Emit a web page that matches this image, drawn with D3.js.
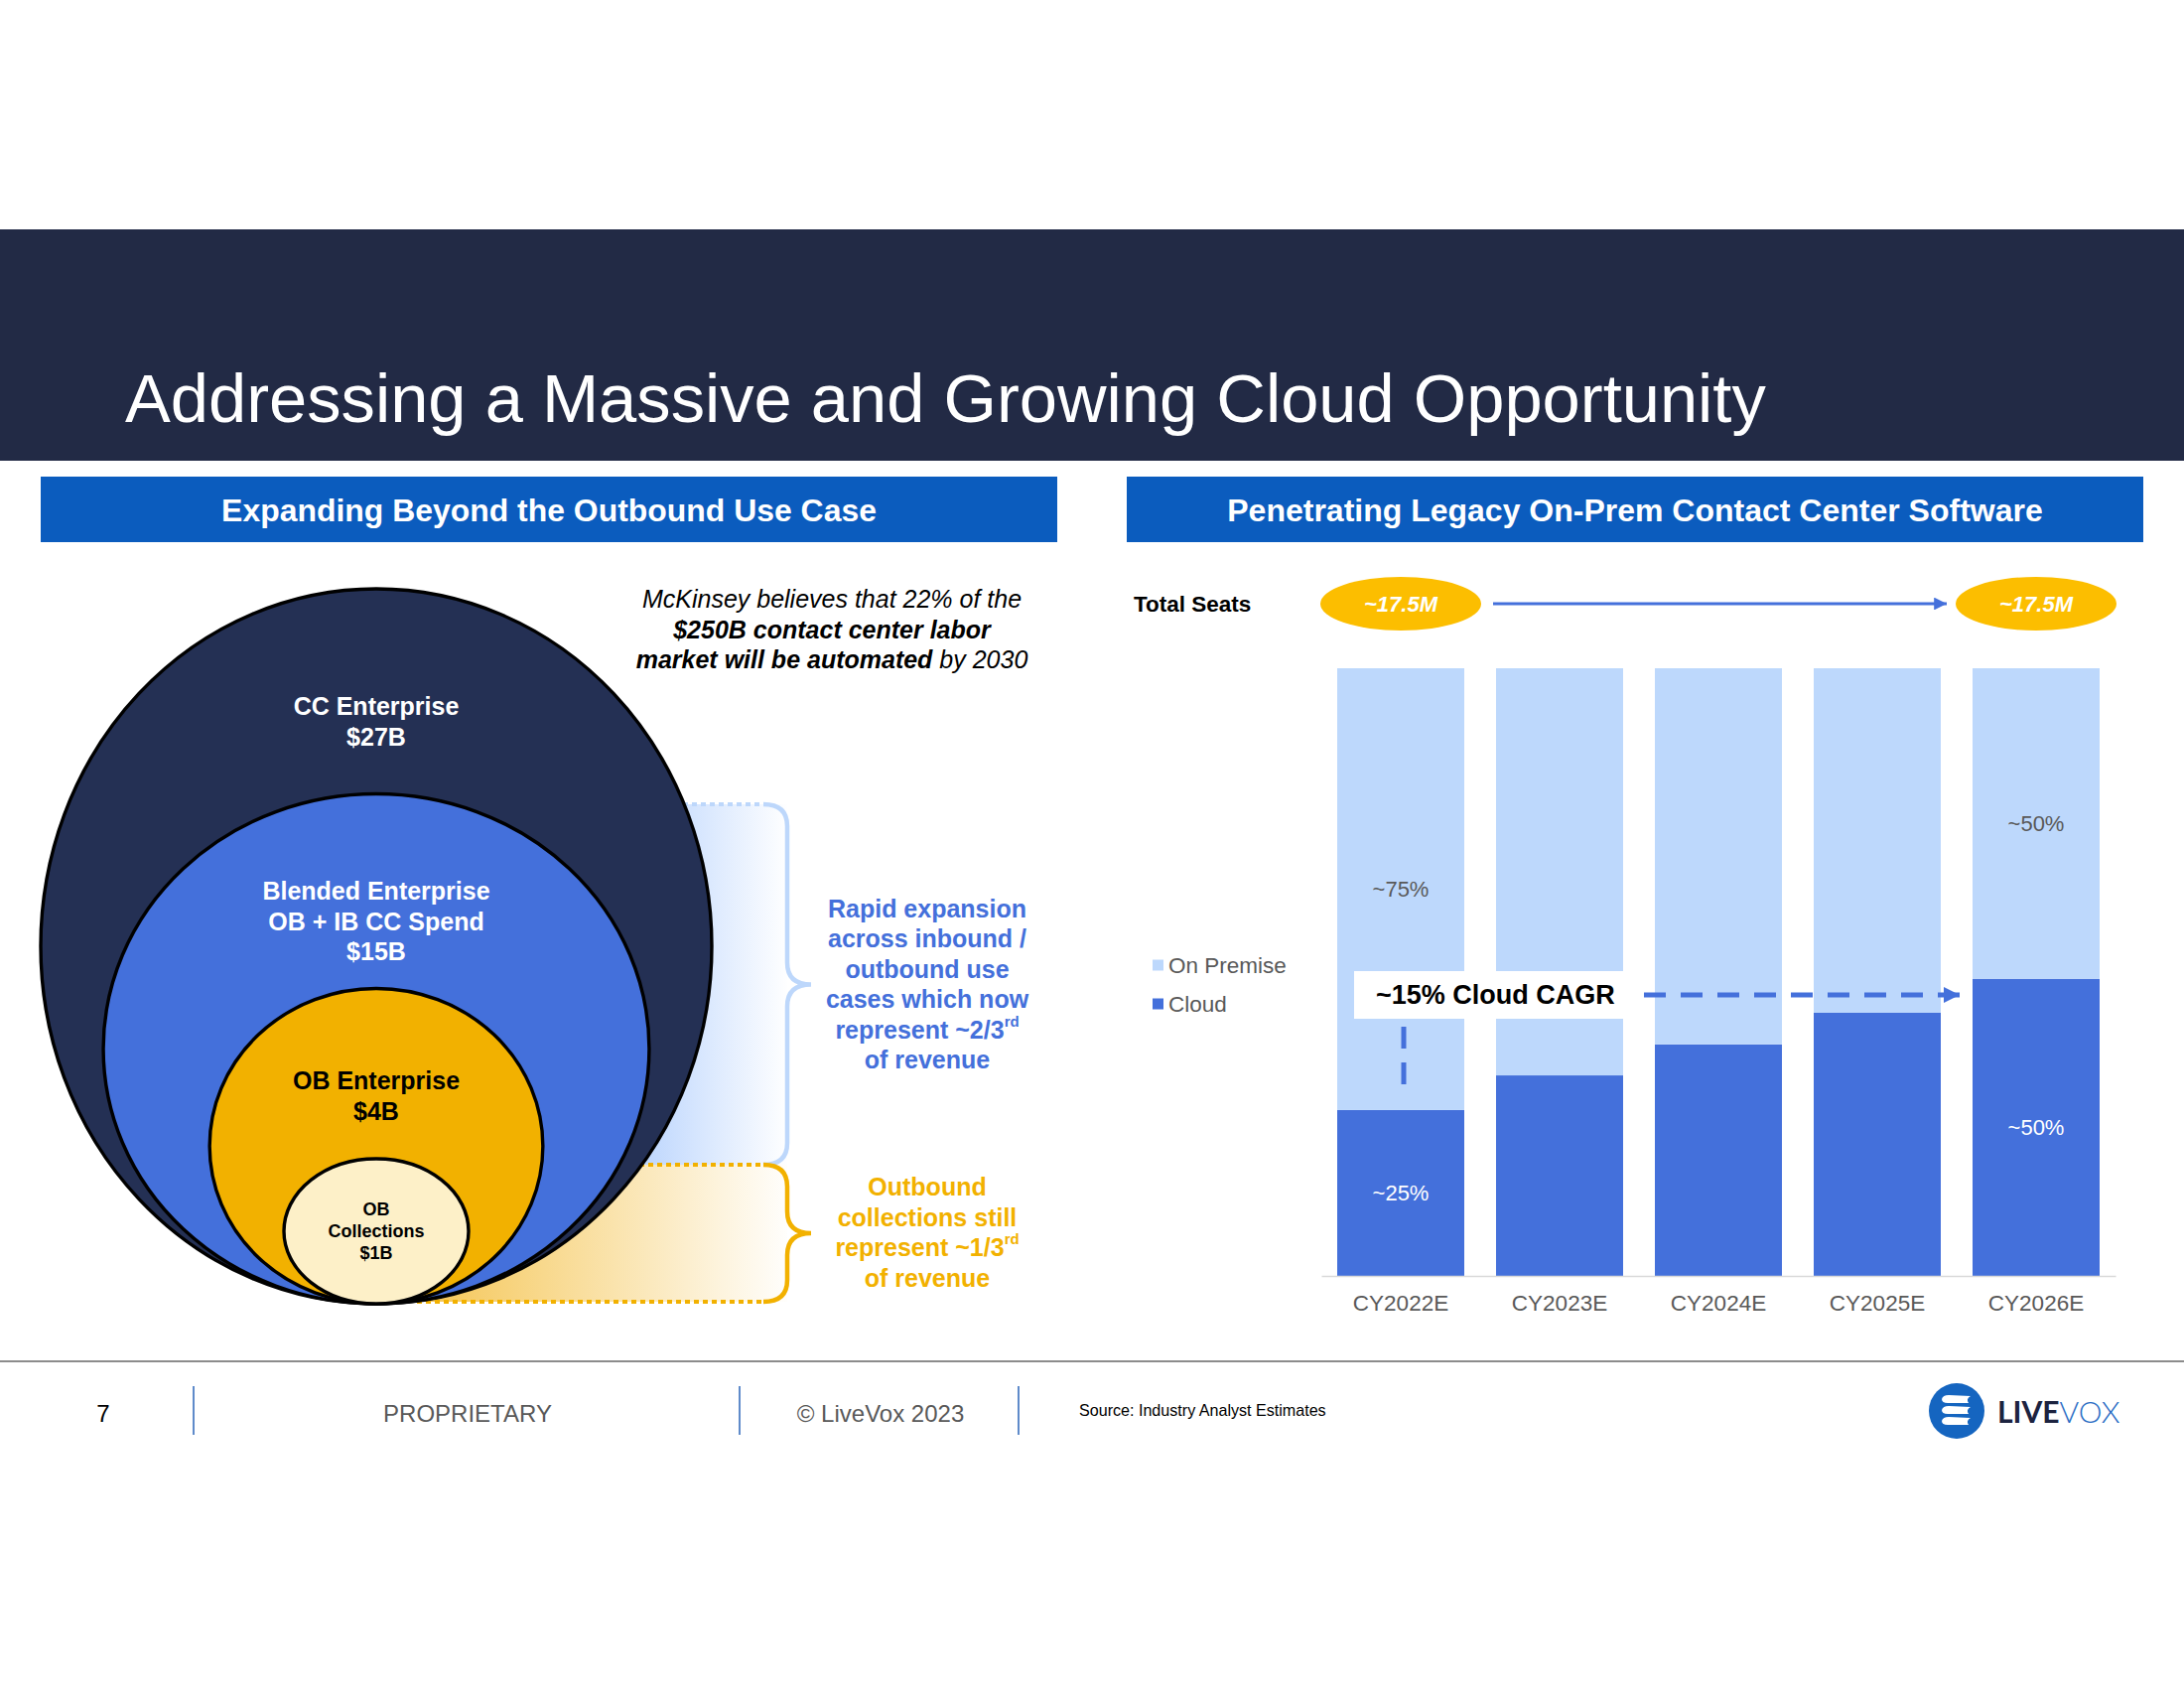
<!DOCTYPE html>
<html><head><meta charset="utf-8">
<script src="https://cdn.jsdelivr.net/npm/d3@7"></script>
<style>body{margin:0;background:#fff;} svg{display:block;font-family:"Liberation Sans",Arial,sans-serif;}</style>
</head><body><svg id="c" width="2200" height="1700"></svg>
<script>
// ---------- data ----------
const titleText = "Addressing a Massive and Growing Cloud Opportunity";
const leftHeader = "Expanding Beyond the Outbound Use Case";
const rightHeader = "Penetrating Legacy On-Prem Contact Center Software";
const markets = ["CC Enterprise", "Blended Enterprise", "OB Enterprise", "OB Collections"];
const marketValues = [27, 15, 4, 1];
const marketLabels = [["CC Enterprise", "$27B"], ["Blended Enterprise", "OB + IB CC Spend", "$15B"], ["OB Enterprise", "$4B"], ["OB", "Collections", "$1B"]];
const categories = ["CY2022E", "CY2023E", "CY2024E", "CY2025E", "CY2026E"];
const seriesNames = ["On Premise", "Cloud"];
const cloudShare = [27.3, 33.0, 38.1, 43.3, 48.9];
const onPremShare = [72.7, 67.0, 61.9, 56.7, 51.1];
const totalSeats = ["~17.5M", "~17.5M"];
const barLabels = [
  {cat: "CY2022E", series: "On Premise", text: "~75%"},
  {cat: "CY2022E", series: "Cloud", text: "~25%"},
  {cat: "CY2026E", series: "On Premise", text: "~50%"},
  {cat: "CY2026E", series: "Cloud", text: "~50%"}
];
const cagrText = "~15% Cloud CAGR";
const blueNote = [["Rapid expansion"], ["across inbound /"], ["outbound use"], ["cases which now"], ["represent ~2/3", "rd"], ["of revenue"]];
const orangeNote = [["Outbound"], ["collections still"], ["represent ~1/3", "rd"], ["of revenue"]];
const footerItems = ["7", "PROPRIETARY", "\u00a9 LiveVox 2023"];
const sourceText = "Source: Industry Analyst Estimates";

// ---------- styles ----------
const C = {
  navy: "#222a45", headerBlue: "#0b5cbe", dark: "#243054", mid: "#4470db",
  orange: "#f2b100", cream: "#fdf0c8", light: "#bdd8fc", pill: "#fcbe00",
  gray: "#595959", braceBlue: "#bdd7fb"
};
const svg = d3.select("#c");
svg.append("rect").attr("width", 2200).attr("height", 1700).attr("fill", "#fff");

function fit(sel, w) {
  const l = sel.node().getComputedTextLength();
  sel.attr("font-size", parseFloat(sel.attr("font-size")) * w / l);
}

// ---------- title band ----------
svg.append("rect").attr("x", 0).attr("y", 231).attr("width", 2200).attr("height", 233).attr("fill", C.navy);
const tt = svg.append("text").attr("x", 126).attr("y", 425).attr("fill", "#fff").attr("font-size", 70).text(titleText);
fit(tt, 1653);

// section headers
[[41, leftHeader, 660], [1135, rightHeader, 822]].forEach(([x0, t, w]) => {
  svg.append("rect").attr("x", x0).attr("y", 480).attr("width", 1024).attr("height", 66).attr("fill", C.headerBlue);
  const s = svg.append("text").attr("x", x0 + 512).attr("y", 525).attr("text-anchor", "middle")
    .attr("fill", "#fff").attr("font-weight", "bold").attr("font-size", 31).text(t);
  fit(s, w);
});

// ---------- left: nested ellipses ----------
const defs = svg.append("defs");
const gB = defs.append("linearGradient").attr("id", "gBlue").attr("gradientUnits", "userSpaceOnUse")
  .attr("x1", 635).attr("x2", 795).attr("y1", 0).attr("y2", 0);
gB.append("stop").attr("offset", 0).attr("stop-color", "#b8d3fd");
gB.append("stop").attr("offset", 1).attr("stop-color", "#ffffff");
const gO = defs.append("linearGradient").attr("id", "gOrange").attr("gradientUnits", "userSpaceOnUse")
  .attr("x1", 440).attr("x2", 800).attr("y1", 0).attr("y2", 0);
gO.append("stop").attr("offset", 0).attr("stop-color", "#f5c85c");
gO.append("stop").attr("offset", 1).attr("stop-color", "#ffffff");

const braceX = 793, dotEnd = 769;
const blueTop = 810, split = 1173, baseY = 1313;
svg.append("rect").attr("x", 600).attr("y", blueTop).attr("width", braceX - 600).attr("height", split - blueTop).attr("fill", "url(#gBlue)");
svg.append("rect").attr("x", 400).attr("y", split).attr("width", braceX - 400).attr("height", baseY - 2 - split).attr("fill", "url(#gOrange)");

const cx = 379;
const n = markets.length;
const rxScale = d3.scalePow().exponent(0.3).domain([1, 27]).range([93, 338]);
const ryScale = d3.scalePow().exponent(1.1).domain([0, n - 1]).range([73, 360]);
const fills = [C.dark, C.mid, C.orange, C.cream];
const ell = markets.map((m, i) => ({name: m, rx: rxScale(marketValues[i]), ry: ryScale(n - 1 - i), fill: fills[i]}));
ell.forEach(e => { e.cy = baseY - e.ry; e.top = baseY - 2 * e.ry; });

// dotted connector lines
svg.append("line").attr("x1", 688).attr("x2", dotEnd).attr("y1", blueTop).attr("y2", blueTop)
  .attr("stroke", C.braceBlue).attr("stroke-width", 4).attr("stroke-dasharray", "5,4");
svg.append("line").attr("x1", 635).attr("x2", dotEnd).attr("y1", split).attr("y2", split)
  .attr("stroke", C.orange).attr("stroke-width", 4).attr("stroke-dasharray", "5,4");
svg.append("line").attr("x1", 420).attr("x2", dotEnd).attr("y1", baseY - 2).attr("y2", baseY - 2)
  .attr("stroke", C.orange).attr("stroke-width", 4).attr("stroke-dasharray", "5,4");

svg.selectAll("ellipse.mkt").data(ell).join("ellipse").attr("class", "mkt")
  .attr("cx", cx).attr("cy", d => d.cy).attr("rx", d => d.rx).attr("ry", d => d.ry)
  .attr("fill", d => d.fill).attr("stroke", "#000").attr("stroke-width", 3.4);

ell.forEach((e, i) => {
  const lines = marketLabels[i];
  const small = i === 3;
  const fs = small ? 18 : 25, lh = small ? 22 : 30.5;
  const center = small ? e.cy : (e.top + ell[i + 1].top) / 2 + (i === 2 ? 22 : 30);
  const col = i < 2 ? "#fff" : "#000";
  lines.forEach((t, k) => {
    svg.append("text").attr("x", cx).attr("y", center + (k - (lines.length - 1) / 2) * lh)
      .attr("dominant-baseline", "central").attr("text-anchor", "middle")
      .attr("font-weight", "bold").attr("font-size", fs).attr("fill", col).text(t);
  });
});

// braces
function brace(y0, y1, color) {
  const m = (y0 + y1) / 2, r = 22;
  const p = `M${dotEnd},${y0} Q${braceX},${y0} ${braceX},${y0 + r} L${braceX},${m - r} Q${braceX},${m} ${braceX + 24},${m} Q${braceX},${m} ${braceX},${m + r} L${braceX},${y1 - r} Q${braceX},${y1} ${dotEnd},${y1}`;
  svg.append("path").attr("d", p).attr("fill", "none").attr("stroke", color).attr("stroke-width", 4.5);
}
brace(blueTop, split, C.braceBlue);
brace(split, baseY - 2, C.orange);

function note(lines, yc, color) {
  const lh = 30.5;
  lines.forEach((parts, k) => {
    const t = svg.append("text").attr("x", 934).attr("y", yc + (k - (lines.length - 1) / 2) * lh)
      .attr("dominant-baseline", "central").attr("text-anchor", "middle")
      .attr("font-weight", "bold").attr("font-size", 25).attr("fill", color);
    t.append("tspan").text(parts[0]);
    if (parts[1]) t.append("tspan").attr("font-size", 15).attr("dy", -9).text(parts[1]);
  });
}
note(blueNote, 991, C.mid);
note(orangeNote, 1241, C.orange);

// McKinsey quote
const mq = [[["McKinsey believes that 22% of the", "normal"]], [["$250B contact center labor", "bold"]], [["market will be automated", "bold"], [" by 2030", "normal"]]];
mq.forEach((parts, k) => {
  const t = svg.append("text").attr("x", 838).attr("y", 603 + k * 30.5).attr("dominant-baseline", "central")
    .attr("text-anchor", "middle").attr("font-style", "italic").attr("font-size", 25).attr("fill", "#000");
  parts.forEach(p => t.append("tspan").attr("font-weight", p[1]).text(p[0]));
});

// ---------- right: stacked bars ----------
const x = d3.scaleBand().domain(categories).range([1331, 2131]).paddingInner(0.2).paddingOuter(0.1);
const y = d3.scaleLinear().domain([0, 100]).range([1285, 673]);
const rows = categories.map((c, i) => ({cat: c, "Cloud": cloudShare[i], "On Premise": onPremShare[i]}));
const stack = d3.stack().keys(["Cloud", "On Premise"])(rows);
const color = d3.scaleOrdinal().domain(seriesNames).range([C.light, C.mid]);

svg.append("g").selectAll("g").data(stack).join("g").attr("fill", d => color(d.key))
  .selectAll("rect").data(d => d).join("rect")
  .attr("x", d => x(d.data.cat)).attr("width", x.bandwidth())
  .attr("y", d => y(d[1])).attr("height", d => y(d[0]) - y(d[1]));

const ax = svg.append("g").attr("transform", "translate(0,1285)")
  .call(d3.axisBottom(x).tickSize(0).tickPadding(19));
ax.select(".domain").attr("stroke", "#d9d9d9").attr("stroke-width", 1.5);
ax.selectAll("text").attr("font-size", 22.5).attr("fill", C.gray).attr("font-family", "Liberation Sans, Arial, sans-serif");

// segment labels
barLabels.forEach(l => {
  const layer = stack.find(s => s.key === l.series);
  const d = layer.find(v => v.data.cat === l.cat);
  svg.append("text").attr("x", x(l.cat) + x.bandwidth() / 2).attr("y", (y(d[0]) + y(d[1])) / 2)
    .attr("dominant-baseline", "central").attr("text-anchor", "middle").attr("font-size", 22)
    .attr("fill", l.series === "Cloud" ? "#fff" : C.gray).text(l.text);
});

// legend
seriesNames.forEach((s, i) => {
  const ly = 972 + i * 39;
  svg.append("rect").attr("x", 1161).attr("y", ly - 5.5).attr("width", 11).attr("height", 11).attr("fill", color(s));
  svg.append("text").attr("x", 1177).attr("y", ly).attr("dominant-baseline", "central")
    .attr("font-size", 22.5).attr("fill", C.gray).text(s);
});

// total seats row
svg.append("text").attr("x", 1142).attr("y", 608).attr("dominant-baseline", "central")
  .attr("font-weight", "bold").attr("font-size", 22.5).attr("fill", "#000").text("Total Seats");
const pillCats = [categories[0], categories[categories.length - 1]];
pillCats.forEach((c, i) => {
  const px = x(c) + x.bandwidth() / 2;
  svg.append("ellipse").attr("cx", px).attr("cy", 608).attr("rx", 81).attr("ry", 27).attr("fill", C.pill);
  svg.append("text").attr("x", px).attr("y", 608).attr("dominant-baseline", "central").attr("text-anchor", "middle")
    .attr("font-weight", "bold").attr("font-style", "italic").attr("font-size", 22).attr("fill", "#fff").text(totalSeats[i]);
});
defs.append("marker").attr("id", "ah").attr("viewBox", "0 0 10 10").attr("refX", 10).attr("refY", 5)
  .attr("markerWidth", 4).attr("markerHeight", 4).attr("markerUnits", "strokeWidth").attr("orient", "auto")
  .append("path").attr("d", "M0,0 L10,5 L0,10 Z").attr("fill", C.mid);
defs.append("marker").attr("id", "ah2").attr("viewBox", "0 0 10 10").attr("refX", 10).attr("refY", 5)
  .attr("markerWidth", 3.2).attr("markerHeight", 3.8).attr("markerUnits", "strokeWidth").attr("orient", "auto")
  .append("path").attr("d", "M0,0 L10,5 L0,10 Z").attr("fill", C.mid);
const p0 = x(pillCats[0]) + x.bandwidth() / 2 + 93, p1 = x(pillCats[1]) + x.bandwidth() / 2 - 90;
svg.append("line").attr("x1", p0).attr("x2", p1).attr("y1", 608).attr("y2", 608)
  .attr("stroke", C.mid).attr("stroke-width", 3.2).attr("marker-end", "url(#ah)");

// CAGR annotation
svg.append("rect").attr("x", 1364).attr("y", 978).attr("width", 271).attr("height", 48).attr("fill", "#fff");
svg.append("text").attr("x", 1386).attr("y", 1002).attr("dominant-baseline", "central")
  .attr("font-weight", "bold").attr("font-size", 27).attr("fill", "#000").text(cagrText);
svg.append("line").attr("x1", 1656).attr("x2", 1974).attr("y1", 1002).attr("y2", 1002)
  .attr("stroke", C.mid).attr("stroke-width", 5).attr("stroke-dasharray", "22,15").attr("marker-end", "url(#ah2)");
svg.append("line").attr("x1", 1414).attr("x2", 1414).attr("y1", 1034).attr("y2", 1092)
  .attr("stroke", C.mid).attr("stroke-width", 5).attr("stroke-dasharray", "22,14");

// ---------- footer ----------
svg.append("line").attr("x1", 0).attr("x2", 2200).attr("y1", 1371).attr("y2", 1371).attr("stroke", "#8c8c8c").attr("stroke-width", 2);
[195, 745, 1026].forEach(sx => svg.append("line").attr("x1", sx).attr("x2", sx).attr("y1", 1396).attr("y2", 1445)
  .attr("stroke", "#2a64b8").attr("stroke-width", 1.5));
[104, 471, 887].forEach((fx, i) => svg.append("text").attr("x", fx).attr("y", 1423).attr("dominant-baseline", "central")
  .attr("text-anchor", "middle").attr("font-size", 24).attr("fill", i === 0 ? "#000" : C.gray).text(footerItems[i]));
svg.append("text").attr("x", 1087).attr("y", 1420).attr("dominant-baseline", "central")
  .attr("font-size", 16.1).attr("fill", "#000").text(sourceText);

// logo
const lg = svg.append("g").attr("transform", "translate(1971,1421)");
lg.append("circle").attr("r", 28).attr("fill", "#1565c0");
[-11, 0, 11].forEach(o => lg.append("path")
  .attr("d", `M-15,${o - 1} Q-14,${o - 5} -8,${o - 5} L14,${o - 4} Q9,${o - 1} 12,${o + 3} L-9,${o + 3} Q-15,${o + 3} -15,${o - 1} Z`)
  .attr("fill", "#fff"));
const lt = svg.append("text").attr("x", 2012).attr("y", 1421).attr("dominant-baseline", "central")
  .attr("font-family", "Lato, sans-serif").attr("font-size", 30);
lt.append("tspan").attr("font-weight", "bold").attr("fill", "#1c2340").text("LIVE");
lt.append("tspan").attr("font-weight", "300").attr("fill", "#2a6cc4").text("VOX");
</script></body></html>
